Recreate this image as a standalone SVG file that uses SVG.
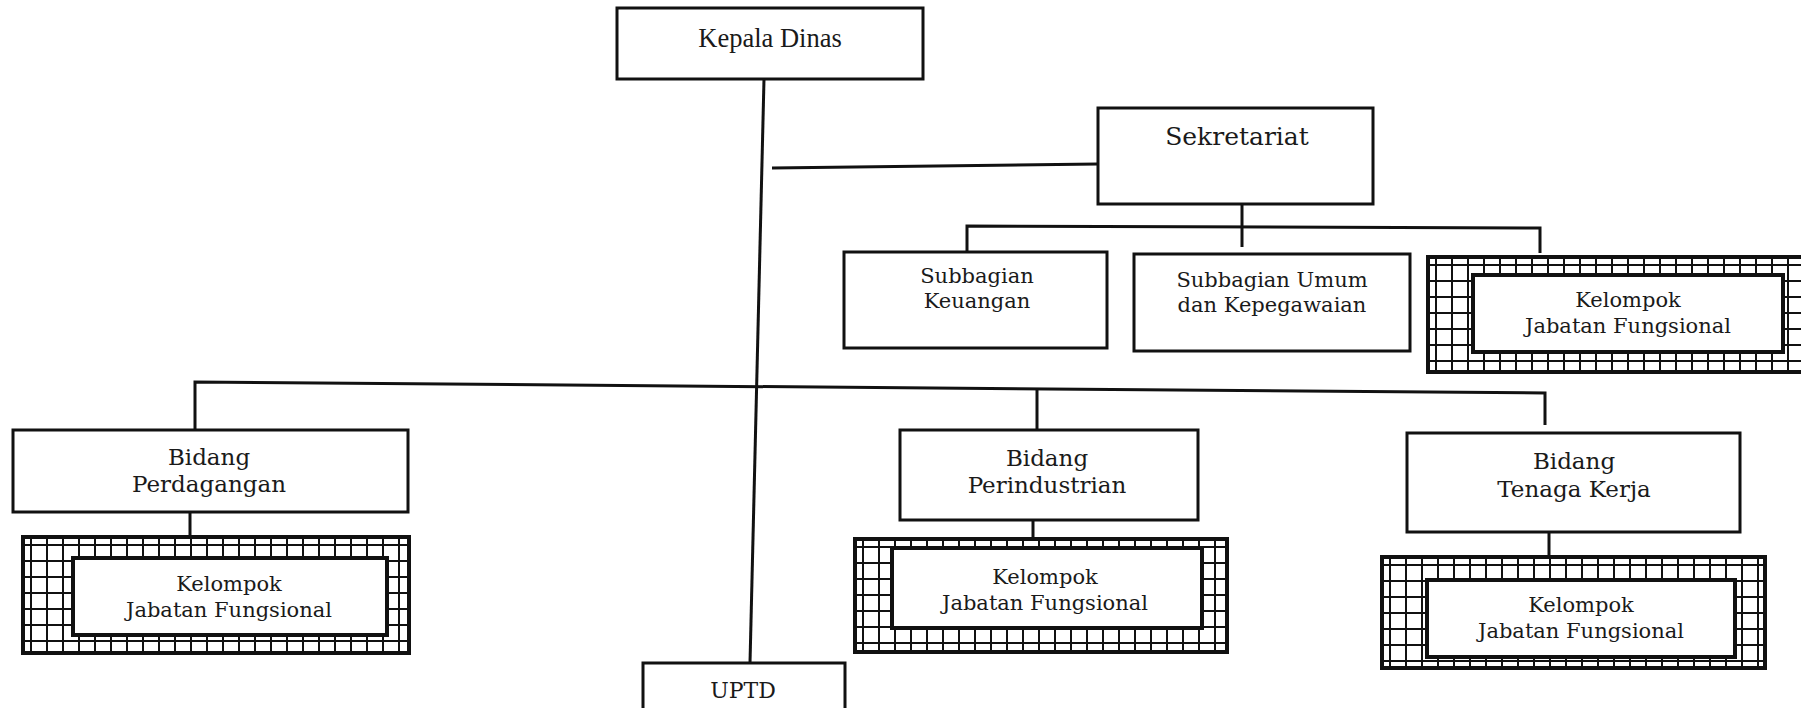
<svg xmlns="http://www.w3.org/2000/svg" width="1801" height="708" viewBox="0 0 1801 708">
<style>
.box{fill:#fff;stroke:#111;stroke-width:3}
.inner{fill:#fff;stroke:#111;stroke-width:4}
.hatch{fill:url(#grid);stroke:#111;stroke-width:4}
.ln{stroke:#111;stroke-width:3;fill:none}
text{font-family:"DejaVu Serif","Liberation Serif",serif;fill:#1a1a1a;text-anchor:middle}
.t21{font-size:21px}
.t23{font-size:23px}
</style>
<defs>
<pattern id="grid" width="16" height="16" patternUnits="userSpaceOnUse">
<rect width="16" height="16" fill="#fff"/>
<path d="M0 8H16M8 0V16" stroke="#111" stroke-width="2"/>
</pattern>
</defs>
<rect width="1801" height="708" fill="#fff"/>
<g id="connectors">
<path class="ln" d="M764 79L750 663"/>
<path class="ln" d="M772 168L1098 164"/>
<path class="ln" d="M1242 204V247"/>
<path class="ln" d="M967 252V226L1540 228V253"/>
<path class="ln" d="M195 430V382L1545 393V425"/>
<path class="ln" d="M1037 390V430"/>
<path class="ln" d="M190 512V537"/>
<path class="ln" d="M1033 520V539"/>
<path class="ln" d="M1549 532V557"/>
</g>
<g id="kepala-dinas">
<rect class="box" x="617" y="8" width="306" height="71"/>
<text x="770" y="47" style="font-family:'Liberation Serif',serif;font-size:26.5px">Kepala Dinas</text>
</g>
<g id="sekretariat">
<rect class="box" x="1098" y="108" width="275" height="96"/>
<text x="1237" y="145" style="font-size:25px">Sekretariat</text>
</g>
<g id="subbagian-keuangan">
<rect class="box" x="844" y="252" width="263" height="96"/>
<text class="t21" x="977" y="283">Subbagian</text>
<text class="t21" x="977" y="308">Keuangan</text>
</g>
<g id="subbagian-umum">
<rect class="box" x="1134" y="254" width="276" height="97"/>
<text class="t21" x="1272" y="287">Subbagian Umum</text>
<text class="t21" x="1272" y="312">dan Kepegawaian</text>
</g>
<g id="jf-sekretariat">
<g transform="translate(1428 257)"><rect class="hatch" x="0" y="0" width="380" height="115"/></g>
<rect class="inner" x="1473" y="275" width="310" height="77"/>
<text class="t21" x="1628" y="307">Kelompok</text>
<text class="t21" x="1628" y="333">Jabatan Fungsional</text>
</g>
<g id="bidang-perdagangan">
<rect class="box" x="13" y="430" width="395" height="82"/>
<text class="t23" x="209" y="465">Bidang</text>
<text class="t23" x="209" y="492">Perdagangan</text>
</g>
<g id="jf-perdagangan">
<g transform="translate(23 537)"><rect class="hatch" x="0" y="0" width="386" height="116"/></g>
<rect class="inner" x="73" y="558" width="314" height="77"/>
<text class="t21" x="229" y="591">Kelompok</text>
<text class="t21" x="229" y="617">Jabatan Fungsional</text>
</g>
<g id="bidang-perindustrian">
<rect class="box" x="900" y="430" width="298" height="90"/>
<text class="t23" x="1047" y="466">Bidang</text>
<text class="t23" x="1047" y="493">Perindustrian</text>
</g>
<g id="jf-perindustrian">
<g transform="translate(855 539)"><rect class="hatch" x="0" y="0" width="372" height="113"/></g>
<rect class="inner" x="892" y="548" width="310" height="80"/>
<text class="t21" x="1045" y="584">Kelompok</text>
<text class="t21" x="1045" y="610">Jabatan Fungsional</text>
</g>
<g id="bidang-tenaga-kerja">
<rect class="box" x="1407" y="433" width="333" height="99"/>
<text class="t23" x="1574" y="469">Bidang</text>
<text class="t23" x="1574" y="497">Tenaga Kerja</text>
</g>
<g id="jf-tenaga-kerja">
<g transform="translate(1382 557)"><rect class="hatch" x="0" y="0" width="383" height="111"/></g>
<rect class="inner" x="1427" y="580" width="308" height="77"/>
<text class="t21" x="1581" y="612">Kelompok</text>
<text class="t21" x="1581" y="638">Jabatan Fungsional</text>
</g>
<g id="uptd">
<rect class="box" x="643" y="663" width="202" height="60"/>
<text x="743" y="698" style="font-size:22px">UPTD</text>
</g>
</svg>
